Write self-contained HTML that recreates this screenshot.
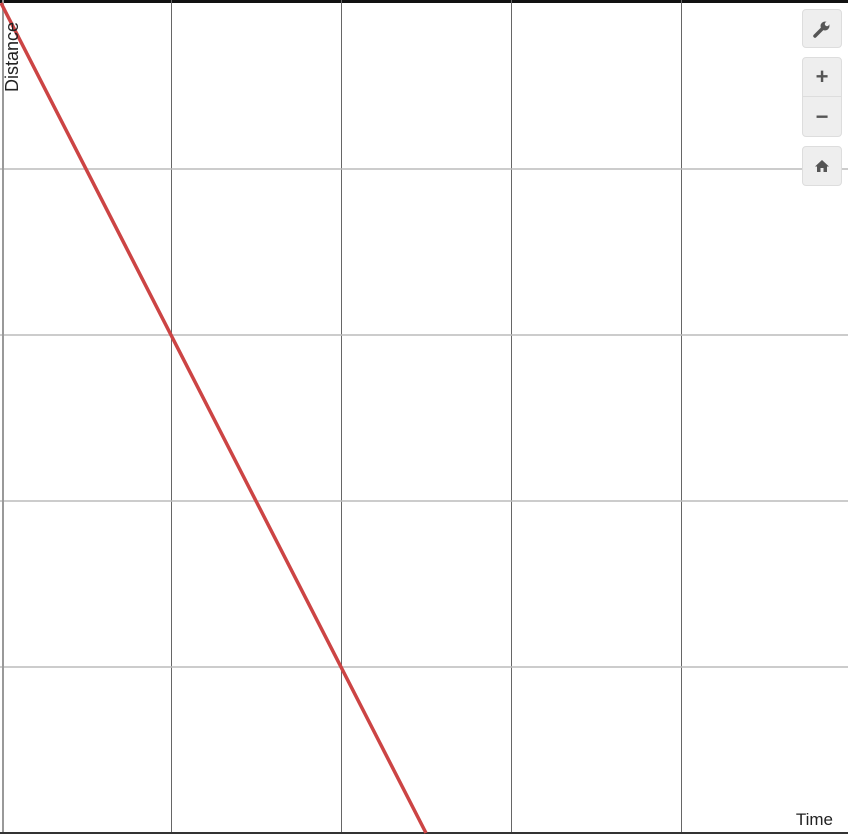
<!DOCTYPE html>
<html><head><meta charset="utf-8"><style>
html,body{margin:0;padding:0;background:#fff;}
body{width:848px;height:834px;overflow:hidden;position:relative;font-family:"Liberation Sans",sans-serif;}
.btn{position:absolute;left:802px;width:40px;background:#eee;border:1px solid #ddd;border-radius:4px;box-sizing:border-box;display:flex;align-items:center;justify-content:center;color:#555;font-weight:bold;}
</style></head><body>
<svg id="chart" width="848" height="834" style="position:absolute;left:0;top:0">
<rect x="0" y="0" width="848" height="3" fill="#111"/>
<g id="grid"></g>
<line x1="3" y1="0" x2="3" y2="834" stroke="#999" stroke-width="2"/>
<line x1="0" y1="833" x2="848" y2="833" stroke="#333" stroke-width="2"/>
<g id="series"></g>
<text x="18" y="92" transform="rotate(-90 18 92)" font-size="18" fill="#222" font-family="Liberation Sans, sans-serif">Distance</text>
<text x="833" y="825" text-anchor="end" font-size="17" fill="#222" font-family="Liberation Sans, sans-serif">Time</text>
</svg>
<div class="btn" style="top:9px;height:39px">
<svg width="18" height="18" viewBox="0 0 18 18"><path d="M2 16 L9 9" stroke="#555" stroke-width="3.5" stroke-linecap="round"/><circle cx="12" cy="6" r="4.5" fill="#555"/><circle cx="14" cy="4" r="2.2" fill="#eee"/></svg></div>
<div class="btn" style="top:57px;height:40px;border-radius:4px 4px 0 0;font-size:22px">+</div>
<div class="btn" style="top:96px;height:41px;border-radius:0 0 4px 4px;font-size:22px">−</div>
<div class="btn" style="top:146px;height:40px">
<svg width="16" height="14" viewBox="0 0 16 14"><path d="M8 1 L1 7.5 L3 7.5 L3 13 L6.5 13 L6.5 9 L9.5 9 L9.5 13 L13 13 L13 7.5 L15 7.5 Z" fill="#555"/></svg></div>
<script>
const xTicks=[1,2,3,4];
const yTicks=[1,2,3,4];
const times=[0,2.5];
const distances=[5,0];
const ns="http://www.w3.org/2000/svg";
const X=t=>1+t*170, Y=d=>833-d*166;
const grid=document.getElementById('grid');
xTicks.forEach(t=>{const l=document.createElementNS(ns,'line');
l.setAttribute('x1',X(t)+0.5);l.setAttribute('x2',X(t)+0.5);l.setAttribute('y1',0);l.setAttribute('y2',834);
l.setAttribute('stroke','#666');l.setAttribute('stroke-width','1');


grid.appendChild(l);});
yTicks.forEach(d=>{const l=document.createElementNS(ns,'line');
l.setAttribute('x1',0);l.setAttribute('x2',848);l.setAttribute('y1',Y(d));l.setAttribute('y2',Y(d));
l.setAttribute('stroke','#bbb');l.setAttribute('stroke-width','1.5');


grid.appendChild(l);});
const s=document.getElementById('series');
const p=document.createElementNS(ns,'polyline');
p.setAttribute('points',times.map((t,i)=>X(t)+','+Y(distances[i])).join(' '));
p.setAttribute('fill','none');p.setAttribute('stroke','#cc4444');p.setAttribute('stroke-width','3.5');


s.appendChild(p);
</script>
</body></html>
